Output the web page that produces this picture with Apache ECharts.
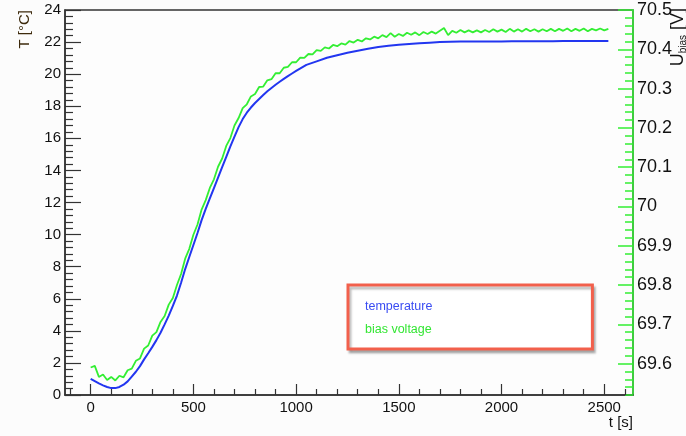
<!DOCTYPE html>
<html>
<head>
<meta charset="utf-8">
<script src="https://cdn.jsdelivr.net/npm/echarts@6/dist/echarts.min.js"></script>
<style>
html,body{margin:0;padding:0;background:#fcfcfc;}
#chart{width:686px;height:436px;}
</style>
</head>
<body>
<div id="chart"></div>
<script>
// ---- data ----
const tempTime = [0,20,40,60,80,100,120,140,160,180,200,220,240,260,280,300,320,340,360,380,400,420,440,460,480,500,520,540,560,580,600,620,640,660,680,700,720,740,760,780,800,820,840,860,880,900,920,940,960,980,1000,1050,1100,1150,1200,1250,1300,1350,1400,1450,1500,1550,1600,1650,1700,1750,1800,1850,1900,1950,2000,2050,2100,2150,2200,2250,2300,2350,2400,2450,2500,2520];
const tempValue = [1.00,0.86,0.72,0.60,0.50,0.43,0.43,0.50,0.64,0.85,1.15,1.45,1.80,2.22,2.60,3.00,3.42,3.88,4.40,4.95,5.55,6.20,7.00,7.85,8.60,9.35,10.10,10.90,11.60,12.25,12.90,13.55,14.20,14.85,15.50,16.10,16.70,17.20,17.60,17.92,18.20,18.45,18.70,18.93,19.14,19.34,19.53,19.71,19.88,20.04,20.20,20.58,20.80,21.02,21.18,21.33,21.46,21.58,21.70,21.77,21.83,21.88,21.92,21.96,22.00,22.02,22.03,22.03,22.04,22.04,22.04,22.05,22.05,22.05,22.05,22.05,22.06,22.06,22.06,22.06,22.06,22.06];

const voltTime = [0,20,40,60,80,100,120,140,160,180,200,220,240,260,280,300,320,340,360,380,400,420,440,460,480,500,520,540,560,580,600,620,640,660,680,700,720,740,760,780,800,820,840,860,880,900,920,940,960,980,1000,1020,1040,1060,1080,1100,1120,1140,1160,1180,1200,1220,1240,1260,1280,1300,1320,1340,1360,1380,1400,1420,1440,1460,1480,1500,1520,1540,1560,1580,1600,1620,1640,1660,1680,1700,1720,1740,1760,1780,1800,1820,1840,1860,1880,1900,1920,1940,1960,1980,2000,2020,2040,2060,2080,2100,2120,2140,2160,2180,2200,2220,2240,2260,2280,2300,2320,2340,2360,2380,2400,2420,2440,2460,2480,2500,2520];
const voltValue = [69.590,69.594,69.566,69.572,69.558,69.566,69.557,69.569,69.565,69.583,69.587,69.607,69.613,69.638,69.646,69.671,69.680,69.706,69.721,69.750,69.767,69.800,69.828,69.867,69.892,69.928,69.954,69.992,70.016,70.047,70.069,70.101,70.122,70.154,70.174,70.206,70.225,70.250,70.260,70.280,70.286,70.304,70.305,70.321,70.324,70.339,70.339,70.353,70.355,70.367,70.367,70.379,70.378,70.388,70.387,70.398,70.396,70.405,70.402,70.411,70.408,70.415,70.412,70.421,70.417,70.424,70.420,70.428,70.425,70.432,70.428,70.436,70.431,70.441,70.432,70.439,70.434,70.442,70.437,70.443,70.436,70.444,70.439,70.445,70.440,70.447,70.454,70.436,70.447,70.442,70.449,70.443,70.448,70.443,70.448,70.443,70.449,70.444,70.451,70.445,70.450,70.444,70.452,70.445,70.451,70.445,70.452,70.446,70.451,70.445,70.451,70.446,70.452,70.446,70.452,70.447,70.453,70.446,70.452,70.447,70.453,70.446,70.452,70.448,70.453,70.448,70.452];

const xMajorTicks = [0,500,1000,1500,2000,2500];
const xMinorTicks = [-100,100,200,300,400,600,700,800,900,1100,1200,1300,1400,1600,1700,1800,1900,2100,2200,2300,2400,2600];
const yRightMajor = [69.6,69.7,69.8,69.9,70,70.1,70.2,70.3,70.4,70.5];
const yRightMinor = [69.52,69.54,69.56,69.58,69.62,69.64,69.66,69.68,69.72,69.74,69.76,69.78,69.82,69.84,69.86,69.88,69.92,69.94,69.96,69.98,70.02,70.04,70.06,70.08,70.12,70.14,70.16,70.18,70.22,70.24,70.26,70.28,70.32,70.34,70.36,70.38,70.42,70.44,70.46,70.48];

const FONT = 'Liberation Sans, Arial, Helvetica, sans-serif';
const BLUE = '#2236f0';
const GREEN = '#33ee33';
const AX = '#333333';
const RECT = {left: 65, top: 10, right: 53, bottom: 41, containLabel: false};

const chart = echarts.init(document.getElementById('chart'), null, {renderer:'canvas'});
chart.setOption({
  animation: false,
  backgroundColor: '#fcfcfc',
  grid: [
    Object.assign({show: true, borderColor: AX, borderWidth: 1.5, backgroundColor: '#fdfdfd'}, RECT),
    Object.assign({show: false}, RECT)
  ],
  xAxis: [
    {type: 'value', gridIndex: 0, min: -125, max: 2640, position: 'bottom',
     axisLine: {show: true, onZero: false, lineStyle: {color: AX, width: 1.5}},
     axisTick: {show: true, inside: true, length: 11, customValues: xMajorTicks, lineStyle: {color: AX, width: 1.2}},
     axisLabel: {customValues: xMajorTicks, fontSize: 15, fontFamily: FONT, color: '#111', margin: 5,
                 formatter: v => String(v)},
     splitLine: {show: false}},
    {type: 'value', gridIndex: 1, min: -125, max: 2640, position: 'bottom',
     axisLine: {show: false, onZero: false},
     axisTick: {show: true, inside: true, length: 6, customValues: xMinorTicks, lineStyle: {color: AX, width: 1.2}},
     axisLabel: {show: false}, splitLine: {show: false}}
  ],
  yAxis: [
    {type: 'value', gridIndex: 0, min: 0, max: 24, interval: 2, position: 'left',
     axisLine: {show: true, onZero: false, lineStyle: {color: AX, width: 1.5}},
     axisTick: {show: true, inside: true, length: 16, lineStyle: {color: AX, width: 1.2}},
     minorTick: {show: true, splitNumber: 5, length: 8, lineStyle: {color: AX, width: 1.2}},
     axisLabel: {fontSize: 15, fontFamily: FONT, color: '#111', margin: 4},
     splitLine: {show: false}},
    {type: 'value', gridIndex: 0, min: 69.52, max: 70.5, position: 'right',
     axisLine: {show: true, onZero: false, lineStyle: {color: GREEN, width: 1.5}},
     axisTick: {show: true, inside: true, length: 15, customValues: yRightMajor, lineStyle: {color: GREEN, width: 1.5}},
     axisLabel: {customValues: yRightMajor, fontSize: 18, fontFamily: FONT, color: '#111', margin: 4},
     splitLine: {show: false}},
    {type: 'value', gridIndex: 1, min: 69.52, max: 70.5, position: 'right',
     axisLine: {show: false, onZero: false},
     axisTick: {show: true, inside: true, length: 8, customValues: yRightMinor, lineStyle: {color: GREEN, width: 1.5}},
     axisLabel: {show: false}, splitLine: {show: false}}
  ],
  legend: {
    orient: 'vertical', left: 348, top: 285,
    itemWidth: 0, itemHeight: 14, itemGap: 9,
    padding: [15, 160, 12, 12],
    backgroundColor: '#ffffff', borderColor: '#f2604c', borderWidth: 3,
    shadowColor: 'rgba(0,0,0,0.25)', shadowOffsetX: 2, shadowOffsetY: 3, shadowBlur: 2,
    selectedMode: false,
    itemStyle: {opacity: 0},
    textStyle: {fontSize: 12.5, fontFamily: FONT},
    data: [
      {name: 'temperature', icon: 'rect', textStyle: {color: '#3a4cf2'}},
      {name: 'bias voltage', icon: 'rect', textStyle: {color: '#33e633'}}
    ]
  },
  series: [
    {name: 'temperature', type: 'line', xAxisIndex: 0, yAxisIndex: 0, showSymbol: false,
     lineStyle: {color: BLUE, width: 2}, itemStyle: {color: BLUE},
     data: tempTime.map((t, i) => [t, tempValue[i]])},
    {name: 'bias voltage', type: 'line', xAxisIndex: 0, yAxisIndex: 1, showSymbol: false,
     lineStyle: {color: GREEN, width: 1.8}, itemStyle: {color: GREEN},
     data: voltTime.map((t, i) => [t, voltValue[i]])}
  ],
  graphic: [
    {type: 'text', x: 25, y: 10, rotation: Math.PI / 2,
     style: {text: 'T [°C]', fontSize: 15, fontFamily: FONT, fill: '#3d2a0c', align: 'right', verticalAlign: 'middle'}},
    {type: 'text', x: 633, y: 423,
     style: {text: 't [s]', fontSize: 15, fontFamily: FONT, fill: '#111', align: 'right', verticalAlign: 'middle'}},
    {type: 'text', x: 678, y: 8, rotation: Math.PI / 2,
     style: {text: '{u|U}{s|bias}{u| [V]}', fill: '#111', align: 'right', verticalAlign: 'middle',
             rich: {u: {fontSize: 18, fontFamily: FONT, fill: '#111', lineHeight: 20},
                    s: {fontSize: 10, fontFamily: FONT, fill: '#111', verticalAlign: 'bottom', lineHeight: 20}}}}
  ]
});
</script>
</body>
</html>
